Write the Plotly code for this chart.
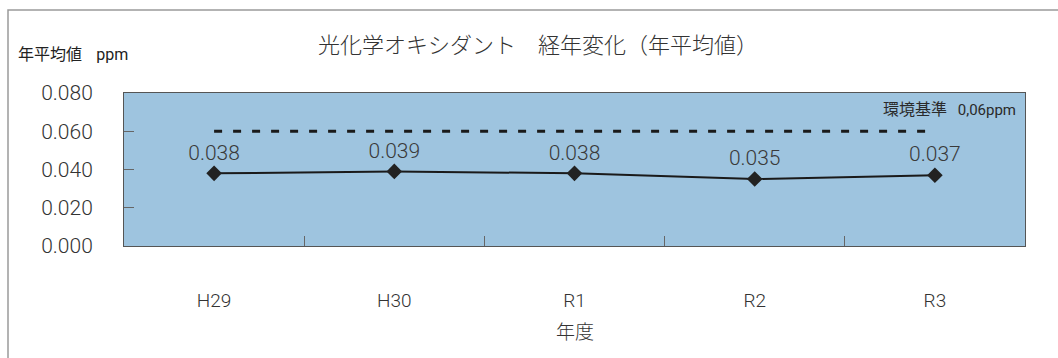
import plotly.graph_objects as go

years = ["H29", "H30", "R1", "R2", "R3"]
values = [0.038, 0.039, 0.038, 0.035, 0.037]
standard = [0.06, 0.06, 0.06, 0.06, 0.06]
labels = ["0.038", "0.039", "0.038", "0.035", "0.037"]

W, H = 1058, 358
L, R, T, B = 124, 1025, 93, 246
pw, ph = R - L, B - T

def px(x):
    return (x - L) / pw

def py(y):
    return (B - y) / ph

FONT = "Noto Sans CJK JP, Noto Sans, sans-serif"
NUM = "Roboto, Noto Sans CJK JP, sans-serif"

fig = go.Figure()
fig.add_trace(go.Scatter(
    x=years, y=standard, mode="lines",
    line=dict(color="#1a1a1a", width=3, dash="8px,11px"),
    hoverinfo="skip", showlegend=False,
))
fig.add_trace(go.Scatter(
    x=years, y=values, mode="lines+markers+text",
    text=labels, textposition="top center",
    textfont=dict(size=21, color="#3a3a3a", family=NUM, weight=300),
    line=dict(color="#1a1a1a", width=2),
    marker=dict(symbol="diamond", size=12, color="#222222"),
    showlegend=False,
))

fig.update_layout(
    width=W, height=H,
    margin=dict(l=L, r=W - R, t=T, b=H - B, pad=0),
    paper_bgcolor="white",
    plot_bgcolor="#9ec4df",
    font=dict(family=FONT, color="#333333"),
    title=dict(
        text="光化学オキシダント　経年変化（年平均値）",
        x=px(538), xref="paper", xanchor="center",
        y=1 - 45 / H, yref="container", yanchor="middle",
        font=dict(size=22, color="#333333", family=FONT, weight=300),
    ),
    xaxis=dict(
        type="category", range=[-0.5, 4.5],
        showgrid=False, zeroline=False,
        showline=True, linecolor="#555555", linewidth=1, mirror=True,
        ticks="inside", tickson="boundaries", ticklen=10, tickcolor="#666666",
        tickfont=dict(size=19, color="#333333", family=NUM, weight=300),
        ticklabelstandoff=37,
    ),
    yaxis=dict(
        range=[0, 0.08], dtick=0.02, tickformat=".3f",
        showgrid=False, zeroline=False,
        showline=True, linecolor="#555555", linewidth=1, mirror=True,
        ticks="inside", ticklen=10, tickcolor="#666666",
        tickfont=dict(size=21, color="#333333", family=NUM, weight=300),
        ticklabelstandoff=26,
    ),
    annotations=[
        dict(text="年平均値&nbsp;&nbsp;&nbsp;&nbsp;"
                  "<span style='font-size:16px;font-family:Roboto'>ppm</span>",
             x=px(16), y=py(53), xref="paper", yref="paper",
             xanchor="left", yanchor="middle", showarrow=False,
             font=dict(size=16, color="#222222", family=FONT)),
        dict(text="年度", x=px(575), y=py(330), xref="paper", yref="paper",
             xanchor="center", yanchor="middle", showarrow=False,
             font=dict(size=19, color="#333333", family=FONT, weight=300)),
        dict(text="環境基準&nbsp;&nbsp;&nbsp;"
                  "<span style='font-size:15px;font-family:Roboto'>0,06ppm</span>",
             x=px(1018), y=py(108), xref="paper", yref="paper",
             xanchor="right", yanchor="middle", showarrow=False,
             font=dict(size=16, color="#2a2a2a", family=FONT)),
    ],
    shapes=[
        dict(type="rect", xref="paper", yref="paper",
             x0=px(8), x1=px(1070), y0=py(370), y1=py(10),
             line=dict(color="#9a9a9a", width=1.5), layer="below"),
    ],
)

fig.write_html("out.html")
